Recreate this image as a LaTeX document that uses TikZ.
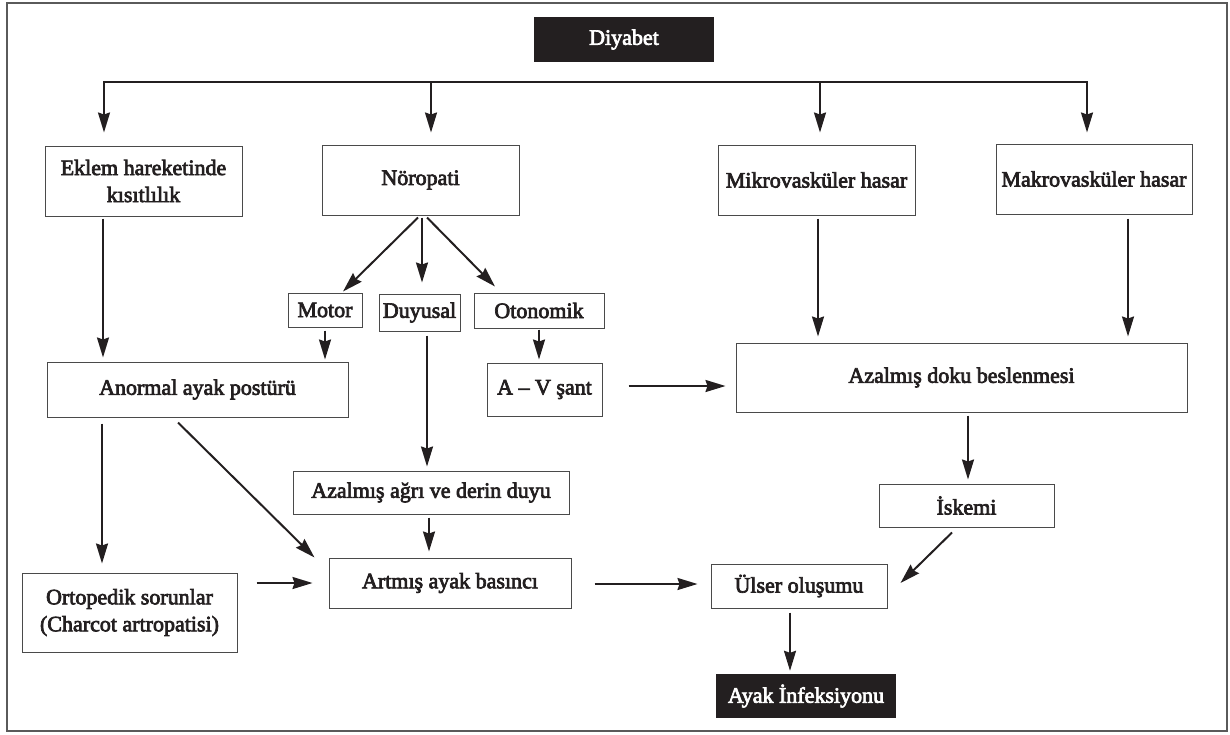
\documentclass[tikz,border=0pt]{standalone}
\usepackage{fontspec}
\setmainfont{Liberation Serif}
\usetikzlibrary{arrows.meta,calc}
\definecolor{ink}{HTML}{231F20}
\definecolor{boxline}{HTML}{4A4A4A}
\definecolor{framec}{HTML}{5A5A5A}
\newcommand{\heavytext}{\special{pdf:literal direct 2 Tr 0.7 w}}
\tikzset{
  box/.style={draw=boxline, line width=1pt, rectangle, inner sep=0pt, align=center, text=ink,
    font=\fontsize{22}{27}\selectfont, execute at begin node=\heavytext},
  darkbox/.style={fill=ink, draw=none, rectangle, inner sep=0pt, align=center, text=white,
    font=\fontsize{22}{27}\selectfont, execute at begin node=\heavytext},
  arr/.style={draw=ink, line width=2pt, -{Stealth[length=20pt,width=12pt,inset=2pt]}},
  busline/.style={draw=ink, line width=2pt, line join=miter,
    {Stealth[length=20pt,width=12pt,inset=2pt]}-{Stealth[length=20pt,width=12pt,inset=2pt]}},
}
\begin{document}
\begin{tikzpicture}[x=1pt,y=-1pt]
\useasboundingbox (0,0) rectangle (1230,734);
\draw[framec, line width=1.4pt] (7,3) rectangle (1227,731);

% nodes
\node[darkbox, minimum width=180pt, minimum height=45pt] (diyabet) at (624,39.5) {Diyabet};
\node[box, minimum width=197pt, minimum height=70pt] (eklem) at (143.5,181) {Eklem hareketinde\\kısıtlılık};
\node[box, minimum width=197pt, minimum height=70pt] (noro) at (420.5,180) {Nöropati};
\node[box, minimum width=197pt, minimum height=70pt] (mikro) at (816.5,180) {Mikrovasküler hasar};
\node[box, minimum width=196pt, minimum height=70pt] (makro) at (1094,179) {Makrovasküler hasar};
\node[box, minimum width=74pt, minimum height=34pt] (motor) at (325,310) {Motor};
\node[box, minimum width=81pt, minimum height=37pt] (duyusal) at (419.5,312.5) {Duyusal};
\node[box, minimum width=130pt, minimum height=35pt] (otonom) at (539,310.5) {Otonomik};
\node[box, minimum width=301pt, minimum height=55pt] (anormal) at (197.5,389.5) {Anormal ayak postürü};
\node[box, minimum width=115pt, minimum height=53pt] (av) at (544.5,389.5) {A -- V şant};
\node[box, minimum width=451pt, minimum height=69pt] (doku) at (961.5,377.5) {Azalmış doku beslenmesi};
\node[box, minimum width=276pt, minimum height=43pt] (agri) at (431,492.5) {Azalmış ağrı ve derin duyu};
\node[box, minimum width=175pt, minimum height=43pt] (iskemi) at (966.5,505.5) {İskemi};
\node[box, minimum width=215pt, minimum height=79pt] (orto) at (129.5,612.5) {Ortopedik sorunlar\\(Charcot artropatisi)};
\node[box, minimum width=242pt, minimum height=50pt] (artmis) at (450,583) {Artmış ayak basıncı};
\node[box, minimum width=176pt, minimum height=44pt] (ulser) at (799,586) {Ülser oluşumu};
\node[darkbox, minimum width=180pt, minimum height=44pt] (ayak) at (806,696) {Ayak İnfeksiyonu};

% top bus
\coordinate (bL) at (104,82);
\coordinate (bR) at (1087,82);
\coordinate (bN) at (431,82);
\coordinate (bM) at (820,82);
\draw[busline, shorten <=13pt, shorten >=11pt] (bL |- eklem.north) -- (bL) -- (bR) -- (bR |- makro.north);
\draw[arr, shorten >=12pt] (bN) -- (bN |- noro.north);
\draw[arr, shorten >=12pt] (bM) -- (bM |- mikro.north);

% connectors
\draw[arr] ($(eklem.south)+(-40.5,2)$) -- ($(anormal.north)+(-94.5,-4)$);
\draw[arr] ($(noro.south)+(-2.5,2)$) -- ($(motor.north)+(18,-1)$);
\draw[arr] ($(noro.south)+(1.5,2)$) -- ($(duyusal.north)+(2.5,-11)$);
\draw[arr] ($(noro.south)+(6.5,2)$) -- ($(otonom.north)+(-44,-6)$);
\draw[arr] ($(motor.south)+(0,3)$) -- ($(anormal.north)+(127.5,-2)$);
\draw[arr] ($(duyusal.south)+(7.5,4)$) -- ($(agri.north)+(-4,-4)$);
\draw[arr] ($(otonom.south)+(0,1)$) -- ($(av.north)+(-5.5,-3)$);
\draw[arr] ($(av.east)+(26,-3.5)$) -- ($(doku.west)+(-10,8.5)$);
\draw[arr] ($(mikro.south)+(1.5,3)$) -- ($(doku.north)+(-143.5,-6)$);
\draw[arr] ($(makro.south)+(34,4)$) -- ($(doku.north)+(166.5,-6)$);
\draw[arr] ($(anormal.south)+(-95.5,6)$) -- ($(orto.north)+(-27.5,-9)$);
\draw[arr] ($(anormal.south)+(-19.5,5)$) -- ($(artmis.north west)+(-14,0)$);
\draw[arr] ($(orto.east)+(19,-29.5)$) -- ($(artmis.west)+(-16,0)$);
\draw[arr] ($(agri.south)+(-2,3)$) -- ($(artmis.north)+(-21,-6)$);
\draw[arr] ($(artmis.east)+(23,1)$) -- ($(ulser.west)+(-13,-2)$);
\draw[arr] ($(doku.south)+(6.5,3)$) -- ($(iskemi.north)+(1.5,-4)$);
\draw[arr] ($(iskemi.south)+(-14.5,5)$) -- ($(ulser.east)+(13,-3)$);
\draw[arr] ($(ulser.south)+(-9,4)$) -- ($(ayak.north)+(-16,-3)$);
\end{tikzpicture}
\end{document}
